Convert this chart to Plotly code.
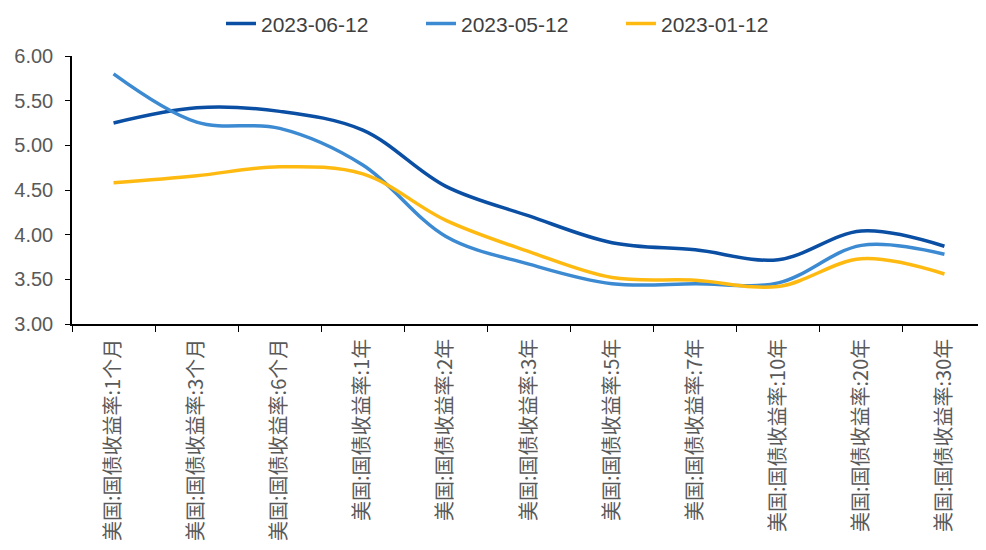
import plotly.graph_objects as go

categories = ["美国:国债收益率:1个月", "美国:国债收益率:3个月", "美国:国债收益率:6个月",
              "美国:国债收益率:1年", "美国:国债收益率:2年", "美国:国债收益率:3年",
              "美国:国债收益率:5年", "美国:国债收益率:7年", "美国:国债收益率:10年",
              "美国:国债收益率:20年", "美国:国债收益率:30年"]
s_0612 = [5.25, 5.42, 5.38, 5.17, 4.54, 4.21, 3.91, 3.83, 3.72, 4.04, 3.87]
s_0512 = [5.80, 5.26, 5.19, 4.78, 3.98, 3.67, 3.45, 3.45, 3.46, 3.88, 3.78]
s_0112 = [4.58, 4.66, 4.76, 4.68, 4.16, 3.81, 3.52, 3.49, 3.42, 3.73, 3.56]
series_names = ["2023-06-12", "2023-05-12", "2023-01-12"]
colors = ["#0A4FA3", "#3C8AD2", "#FFBA12"]

fig = go.Figure()
for name, vals, c in zip(series_names, [s_0612, s_0512, s_0112], colors):
    fig.add_trace(go.Scatter(x=categories, y=vals, name=name, mode="lines",
                             line=dict(color=c, width=3.5, shape="spline", smoothing=1.0)))

fig.update_layout(
    width=986, height=550,
    margin=dict(l=64, r=8, t=48, b=234, autoexpand=False),
    paper_bgcolor="white", plot_bgcolor="white",
    font=dict(family="Liberation Sans, Arial", size=17, color="#595959"),
    legend=dict(orientation="h", x=0.163, xanchor="left", y=1.12, yanchor="middle",
                entrywidth=155, entrywidthmode="pixels",
                font=dict(size=21, color="#404040"), traceorder="normal"),
    showlegend=True,
)
fig.update_yaxes(range=[3.0, 6.0], dtick=0.5, tickformat=".2f", showgrid=False,
                 showline=True, linecolor="black", linewidth=1.5, automargin=False,
                 ticks="outside", ticklen=5, tickcolor="black", zeroline=False,
                 ticklabelstandoff=8,
                 tickfont=dict(size=20, color="#595959"))
fig.update_xaxes(showgrid=False, showline=True, linecolor="black", linewidth=1.5,
                 ticks="outside", ticklen=6, tickcolor="black", tickson="boundaries",
                 tickangle=-90, range=[-0.5, 10.5], automargin=False,
                 ticklabelstandoff=5,
                 tickfont=dict(family="Noto Sans CJK SC", size=20, color="#595959"))

fig.write_html("out.html")
